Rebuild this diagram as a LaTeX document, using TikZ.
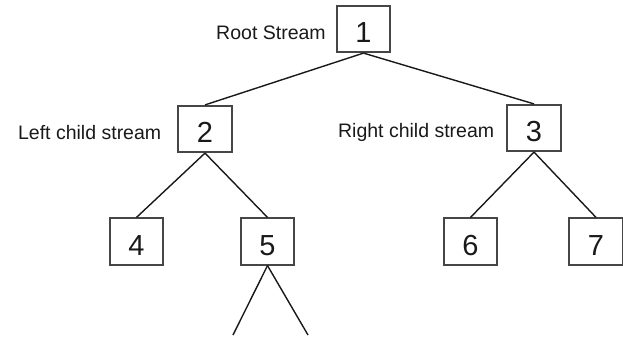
\documentclass[tikz,border=0pt]{standalone}
\usepackage{fontspec}
\setmainfont{Liberation Sans}
\usetikzlibrary{positioning}
\definecolor{boxline}{RGB}{70,70,70}
\definecolor{inkline}{RGB}{25,25,25}
\tikzset{
  stream/.style={draw=boxline, line width=1.7pt, minimum width=53.5pt, minimum height=46.5pt,
    inner sep=0pt, text height=27pt, text depth=0pt, font=\fontsize{29}{29}\selectfont, text=inkline},
  tag/.style={inner sep=0pt, font=\fontsize{19.5}{20}\selectfont, text=inkline, yshift=-4pt},
  branch/.style={draw=inkline, line width=1.4pt},
}
\begin{document}
\begin{tikzpicture}[x=1pt, y=-1pt]
\useasboundingbox (0,0) rectangle (623,338);
% streams
\node[stream] (n1) at (363.5,29) {1};
\node[stream] (n2) at (205,129) {2};
\node[stream] (n3) at (534,128) {3};
\node[stream] (n4) at (136.5,241.5) {4};
\node[stream] (n5) at (267.5,241.5) {5};
\node[stream] (n6) at (470.5,241.5) {6};
\node[stream] (n7) at (596,241.5) {7};
\coordinate (c5l) at (233,335);
\coordinate (c5r) at (308,335);
% labels
\node[tag, left=10pt of n1] (t1) {Root Stream};
\node[tag, left=16pt of n2] (t2) {Left child stream};
\node[tag, left=12pt of n3] (t3) {Right child stream};
% branches
\draw[branch] (n1.south) -- (n2.north);
\draw[branch] (n1.south) -- (n3.north);
\draw[branch] (n2.south) -- (n4.north);
\draw[branch] (n2.south) -- (n5.north);
\draw[branch] (n3.south) -- (n6.north);
\draw[branch] (n3.south) -- (n7.north);
\draw[branch] (n5.south) -- (c5l);
\draw[branch] (n5.south) -- (c5r);
\end{tikzpicture}
\end{document}
